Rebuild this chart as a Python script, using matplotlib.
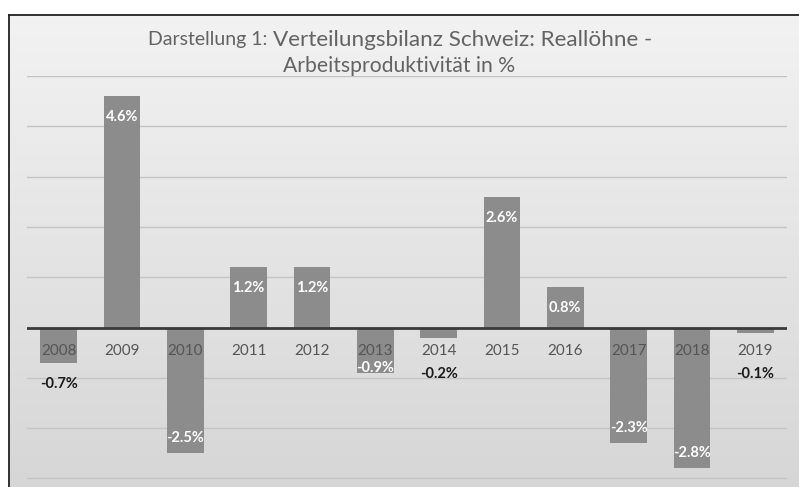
import matplotlib
matplotlib.use("Agg")
import matplotlib.pyplot as plt
import numpy as np

years = ["2008", "2009", "2010", "2011", "2012", "2013",
         "2014", "2015", "2016", "2017", "2018", "2019"]
values = [-0.7, 4.6, -2.5, 1.2, 1.2, -0.9, -0.2, 2.6, 0.8, -2.3, -2.8, -0.1]
labels = ["-0.7%", "4.6%", "-2.5%", "1.2%", "1.2%", "-0.9%",
          "-0.2%", "2.6%", "0.8%", "-2.3%", "-2.8%", "-0.1%"]
title_a = "Darstellung 1: "
title_b = "Verteilungsbilanz Schweiz: Reallöhne -"
title_c = "Arbeitsproduktivität in %"

plt.rcParams['font.family'] = ['Lato', 'DejaVu Sans']

W, H = 799, 487
fig = plt.figure(figsize=(W / 100, H / 100), dpi=100)
fig.patch.set_facecolor("white")

# background gradient panel
bg = fig.add_axes([9 / W, 0, 1 - 9 / W, 1 - 15 / H], zorder=0)
grad = np.linspace(0, 1, 256).reshape(-1, 1)
top_c = np.array([0.95, 0.95, 0.95])
bot_c = np.array([0.84, 0.84, 0.84])
img = top_c * (1 - grad[..., None]) + bot_c * grad[..., None]
img = np.repeat(img, 2, axis=1)
bg.imshow(img, aspect="auto", extent=[0, 1, 0, 1], origin="upper")
bg.set_xlim(0, 1)
bg.set_ylim(0, 1)
bg.set_axis_off()
# frame lines (left and top)
fig.add_artist(plt.Line2D([9 / W, 9 / W], [0, 1 - 14.5 / H], color="#222222", lw=1.3,
                          transform=fig.transFigure))
fig.add_artist(plt.Line2D([9 / W, 1], [1 - 14.5 / H, 1 - 14.5 / H], color="#222222", lw=1.3,
                          transform=fig.transFigure))

ax = fig.add_axes([27 / W, 0, 760 / W, 1 - 76 / H], zorder=1)
ax.patch.set_alpha(0)
x = np.arange(len(years))
ax.bar(x, values, width=0.58, color="#8c8c8c", zorder=2)
ax.set_xlim(-0.5, len(years) - 0.5)
ax.set_ylim(-3.17, 5.0)
for g in range(-3, 6):
    if g != 0:
        ax.axhline(g, color="#c4c4c4", lw=1.0, zorder=1)
ax.axhline(0, color="#3a3a3a", lw=2.0, zorder=3)
for s in ax.spines.values():
    s.set_visible(False)
ax.set_xticks([])
ax.set_yticks([])

# category labels just below the zero line
for xi, yr in zip(x, years):
    ax.text(xi, -0.46, yr, ha="center", va="center", fontsize=11,
            color="#555555", zorder=4)

# data labels
for xi, v, lab in zip(x, values, labels):
    if v > 0:
        ax.text(xi, v - 0.42, lab, ha="center", va="center", fontsize=10.5,
                fontweight="bold", color="white", zorder=4)
    elif v <= -0.8:
        ax.text(xi, min(v + 0.3, -0.8), lab, ha="center", va="center", fontsize=10.5,
                fontweight="bold", color="white", zorder=4)
    else:
        ax.text(xi, min(v - 0.42, -0.92), lab, ha="center", va="center", fontsize=10.5,
                fontweight="bold", color="#1a1a1a", zorder=4)

# title (first line composed of a smaller prefix and a larger main part)
tcol = "#636363"
ta = fig.text(0, 1 - 40 / H, title_a, ha="left", va="center", fontsize=14, color=tcol)
tb = fig.text(0, 1 - 40 / H, title_b, ha="left", va="center", fontsize=16.2, color=tcol)
fig.canvas.draw()
r = fig.canvas.get_renderer()
wa = ta.get_window_extent(r).width
wb = tb.get_window_extent(r).width
cx = 400
start = cx - (wa + wb) / 2
ta.set_x(start / W)
tb.set_x((start + wa) / W)
fig.text(399 / W, 1 - 66 / H, title_c, ha="center", va="center",
         fontsize=15.2, color=tcol)

fig.savefig("out.png", dpi=100)
